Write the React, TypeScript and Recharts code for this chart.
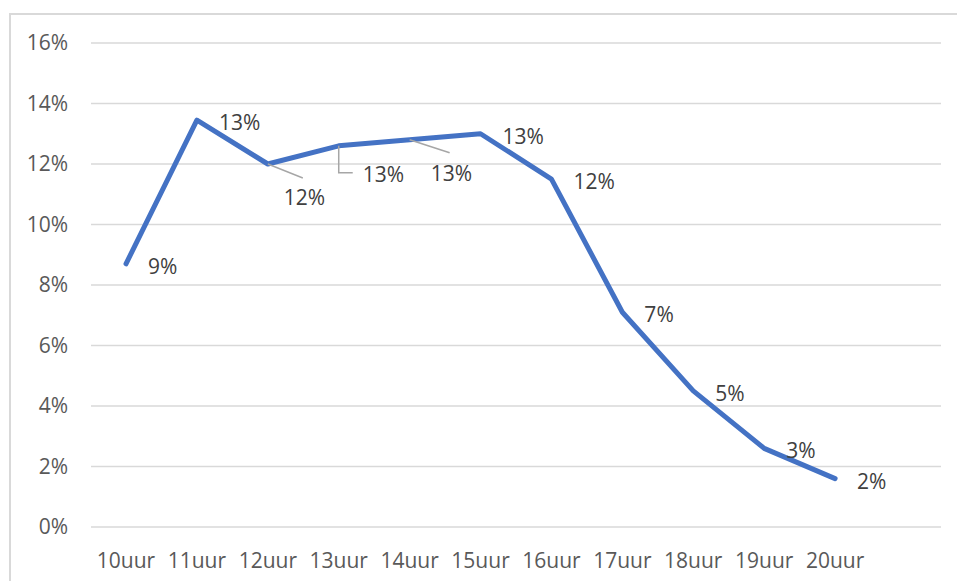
import React from 'react';
import { LineChart, Line, XAxis, YAxis, CartesianGrid } from 'recharts';

// hours; the last empty slot is the spare category Excel leaves at the right
const hours = ['10uur', '11uur', '12uur', '13uur', '14uur', '15uur', '16uur', '17uur', '18uur', '19uur', '20uur', ''];
const share = [8.7, 13.45, 12.0, 12.6, 12.8, 13.0, 11.5, 7.1, 4.5, 2.6, 1.6, null];
const yTicks = [0, 2, 4, 6, 8, 10, 12, 14, 16];

const data = hours.map((h, i) => ({ hour: h, share: share[i] }));

const FONT = '"Open Sans", sans-serif';
const FONT_SIZE = 21;
const AXIS_TEXT = '#595959';
const LABEL_TEXT = '#404040';
const LEADER = '#a6a6a6';

// label placement per point (left edge offset, vertical offset), plus leader line style
const labelPos: Record<number, { dx: number; dy: number; leader?: 'straight' | 'elbow'; lx?: number; ly?: number }> = {
  2: { dx: 16, dy: 33, leader: 'straight', lx: 35, ly: 14 },
  3: { dx: 24, dy: 28, leader: 'elbow', lx: 14, ly: 27 },
  4: { dx: 21, dy: 33, leader: 'straight', lx: 40, ly: 13 },
};

const renderLabel = (props: any) => {
  const { x, y, value, index } = props;
  if (value == null) return null;
  const pos = labelPos[index] || { dx: 22, dy: 2 };
  let leader = null;
  if (pos.leader === 'straight') {
    leader = <line x1={x} y1={y} x2={x + pos.lx!} y2={y + pos.ly!} stroke={LEADER} strokeWidth={1.5} />;
  } else if (pos.leader === 'elbow') {
    leader = (
      <polyline
        points={`${x},${y} ${x},${y + pos.ly!} ${x + pos.lx!},${y + pos.ly!}`}
        fill="none"
        stroke={LEADER}
        strokeWidth={1.5}
      />
    );
  }
  return (
    <g>
      {leader}
      <text
        x={x + pos.dx}
        y={y + pos.dy}
        dominantBaseline="central"
        textAnchor="start"
        fill={LABEL_TEXT}
        fontSize={FONT_SIZE}
        fontFamily={FONT}
      >
        {Math.round(value)}%
      </text>
    </g>
  );
};

export default function App() {
  return (
    <div style={{ position: 'fixed', left: 0, top: 0, width: 957, height: 581, background: '#fff', overflow: 'hidden' }}>
      <div
        style={{
          position: 'absolute',
          left: 9,
          top: 13,
          width: 1200,
          height: 800,
          borderLeft: '2px solid #d9d9d9',
          borderTop: '2px solid #d9d9d9',
        }}
      />
      <div style={{ position: 'absolute', left: 0, top: 0 }}>
        <LineChart width={957} height={581} data={data} margin={{ top: 43, right: 16, left: 0, bottom: 0 }}>
          <CartesianGrid vertical={false} stroke="#d9d9d9" strokeWidth={1.5} />
          <XAxis
            dataKey="hour"
            height={54}
            interval={0}
            padding={{ left: 35, right: 35 }}
            axisLine={false}
            tickLine={false}
            tickSize={0}
            tickMargin={26}
            tick={{ fill: AXIS_TEXT, fontSize: FONT_SIZE, fontFamily: FONT }}
          />
          <YAxis
            width={91}
            domain={[0, 16]}
            ticks={yTicks}
            tickFormatter={(v: number) => `${v}%`}
            axisLine={false}
            tickLine={false}
            tickSize={0}
            tickMargin={23}
            tick={{ fill: AXIS_TEXT, fontSize: FONT_SIZE, fontFamily: FONT }}
          />
          <Line
            dataKey="share"
            type="linear"
            stroke="#4472c4"
            strokeWidth={5}
            strokeLinecap="round"
            strokeLinejoin="round"
            dot={false}
            activeDot={false}
            label={renderLabel}
            isAnimationActive={false}
          />
        </LineChart>
      </div>
    </div>
  );
}
